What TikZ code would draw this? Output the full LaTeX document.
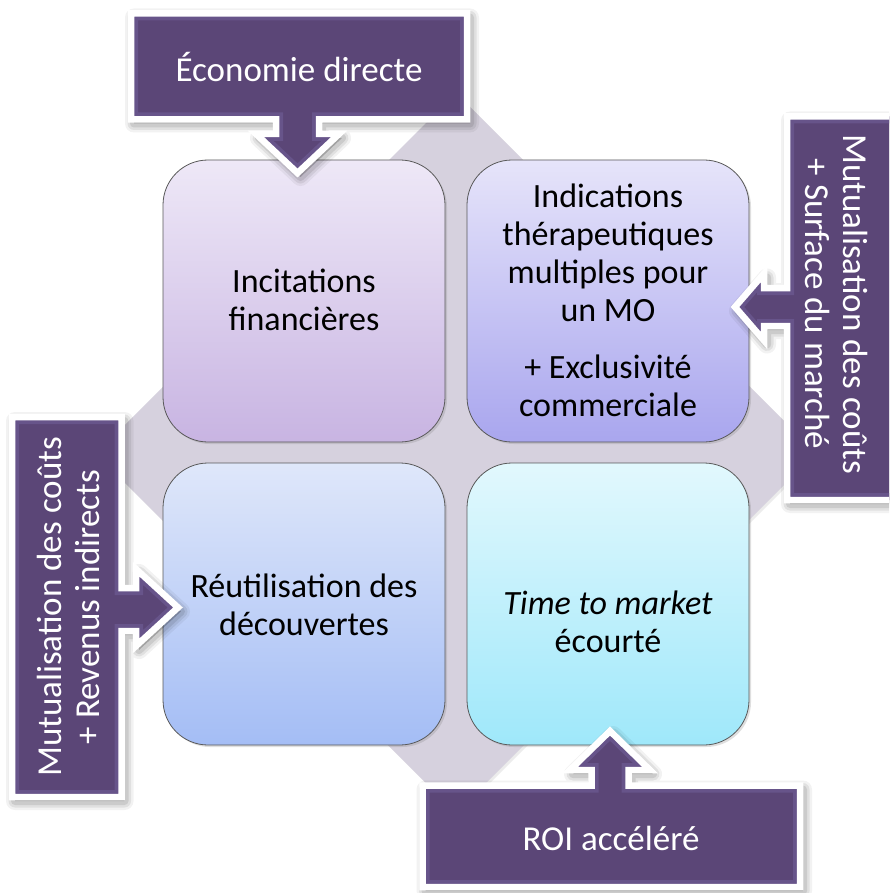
\documentclass[tikz,border=0pt]{standalone}
\usepackage{fontspec}
\setmainfont{Carlito}
\usetikzlibrary{shadows,shadings}
\definecolor{purp}{HTML}{5B4677}
\definecolor{purpL}{HTML}{67548A}
\definecolor{diam}{HTML}{D6D1DE}
\definecolor{tlT}{HTML}{EEE8F7}\definecolor{tlB}{HTML}{C8B4E2}
\definecolor{trT}{HTML}{E6E4FA}\definecolor{trB}{HTML}{A9A6EE}
\definecolor{blT}{HTML}{DFE7FA}\definecolor{blB}{HTML}{A4BDF5}
\definecolor{brT}{HTML}{E2F8FD}\definecolor{brB}{HTML}{9FE8FA}
\newcommand\mycallout[1]{%
  \foreach \w/\o in {18/0.05,13/0.07,8/0.09}{%
    \draw[black, draw opacity=\o, fill opacity=\o, fill=black, line width=\w pt,
      line join=round, shift={(3,4)}] #1;}%
  \fill[purp] #1;%
  \begin{scope}\clip #1;\draw[purpL, line width=14pt, line join=miter] #1;\end{scope}%
  \draw[white, line width=6.5pt, line join=miter] #1;%
}
\begin{document}
\begin{tikzpicture}[x=1pt,y=-1pt,
  quad/.style={draw=black!65, line width=0.8pt, rounded corners=45pt,
    minimum width=282pt, minimum height=282pt,
    drop shadow={opacity=0.25, shadow xshift=2pt, shadow yshift=-2pt}},
  qtext/.style={align=center, text=black, font=\fontsize{34}{38}\selectfont},
  ctext/.style={text=white, align=center, font=\fontsize{35}{38}\selectfont}]
\fill[white] (0,0) rectangle (889,893);
\clip (0,0) rectangle (889,893);
% background diamond
\fill[diam, drop shadow={opacity=0.15, shadow xshift=2pt, shadow yshift=-2pt}]
  (456,93) -- (816,453) -- (456,813) -- (96,454) -- cycle;
% four quadrants
\node[quad, top color=tlT, bottom color=tlB] (tl) at (304,301) {};
\node[quad, top color=trT, bottom color=trB] (tr) at (608,301) {};
\node[quad, top color=blT, bottom color=blB] (bl) at (304,604) {};
\node[quad, top color=brT, bottom color=brB] (br) at (608,604) {};
\node[qtext] (tltext) at (304,300) {Incitations\\financières};
\node[qtext] (trtext) at (608,300) {Indications\\thérapeutiques\\multiples pour\\un MO\\[19pt]+ Exclusivité\\commerciale};
\node[qtext] (bltext) at (304,605) {Réutilisation des\\découvertes};
\node[qtext] (brtext) at (608,622) {\textit{Time to market}\\écourté};
% top callout
\mycallout{(131,13.5) -- (467,13.5) -- (467,119.5) -- (319,119.5) -- (319,134)
  -- (339,134) -- (297.5,173) -- (256,134) -- (276,134) -- (276,119.5)
  -- (131,119.5) -- cycle}
\node[ctext] (ctop) at (299,67) {Économie directe};
% right callout
\mycallout{(787,116.5) -- (900,116.5) -- (900,500) -- (787,500) -- (787,326)
  -- (764,326) -- (764,340.5) -- (735,307) -- (764,273.5) -- (764,288)
  -- (787,288) -- cycle}
\node[ctext, rotate=-90] (cright) at (837,304) {Mutualisation des coûts\\+ Surface du marché};
% left callout
\mycallout{(12,417) -- (121.5,417) -- (121.5,588) -- (136,588) -- (136,569)
  -- (178,607.5) -- (136,646) -- (136,631) -- (121.5,631) -- (121.5,797)
  -- (12,797) -- cycle}
\node[ctext, rotate=90] (cleft) at (68,607) {Mutualisation des coûts\\+ Revenus indirects};
% bottom callout
\mycallout{(422.5,785.5) -- (591.5,785.5) -- (591.5,770) -- (570,770)
  -- (610,731) -- (650,770) -- (628.5,770) -- (628.5,785.5) -- (800,785.5)
  -- (800,887) -- (422.5,887) -- cycle}
\node[ctext] (cbottom) at (611,838) {ROI accéléré};
\end{tikzpicture}
\end{document}
